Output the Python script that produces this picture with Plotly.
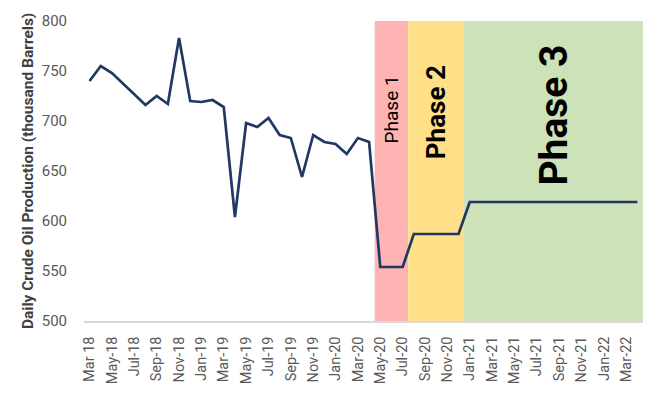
import plotly.graph_objects as go

# Months Mar-18 .. Apr-22 (first label in the original has a space)
months = ["Mar 18", "Apr-18", "May-18", "Jun-18", "Jul-18", "Aug-18", "Sep-18", "Oct-18", "Nov-18", "Dec-18",
          "Jan-19", "Feb-19", "Mar-19", "Apr-19", "May-19", "Jun-19", "Jul-19", "Aug-19", "Sep-19", "Oct-19",
          "Nov-19", "Dec-19", "Jan-20", "Feb-20", "Mar-20", "Apr-20", "May-20", "Jun-20", "Jul-20", "Aug-20",
          "Sep-20", "Oct-20", "Nov-20", "Dec-20", "Jan-21", "Feb-21", "Mar-21", "Apr-21", "May-21", "Jun-21",
          "Jul-21", "Aug-21", "Sep-21", "Oct-21", "Nov-21", "Dec-21", "Jan-22", "Feb-22", "Mar-22", "Apr-22"]

production = [740, 755, 748, 737, 726, 716, 725, 717, 783, 720,
              719, 721, 714, 604, 698, 694, 703, 686, 683, 644,
              686, 679, 677, 667, 683, 679, 554, 554, 554, 587,
              587, 587, 587, 587, 619, 619, 619, 619, 619, 619,
              619, 619, 619, 619, 619, 619, 619, 619, 619, 619]

tick_labels = months[::2]

phase_names = ["Phase 1", "Phase 2", "Phase 3"]
phase_start = ["May-20", "Aug-20", "Jan-21"]
phase_end = ["Jul-20", "Dec-20", "Apr-22"]
phase_colors = ["#FFB4B4", "#FFE088", "#CDE2B8"]
phase_font_sizes = [19, 26, 39]
phase_bold = [False, True, True]
phase_label_y = [712, 709, 706]

FONT = "Roboto, Open Sans, sans-serif"

fig = go.Figure()

fig.add_trace(go.Scatter(
    x=months, y=production, mode="lines",
    line=dict(color="#203864", width=2.7),
    showlegend=False, hoverinfo="skip",
))

for name, s, e, c, fs, b, ly in zip(phase_names, phase_start, phase_end, phase_colors,
                                    phase_font_sizes, phase_bold, phase_label_y):
    i0 = months.index(s) - 0.5
    i1 = months.index(e) + 0.5
    fig.add_shape(type="rect", xref="x", yref="y", x0=i0, x1=i1, y0=500, y1=800,
                  fillcolor=c, line=dict(width=0), layer="below")
    fig.add_annotation(x=(i0 + i1) / 2, y=ly, xref="x", yref="y",
                       text=f"<b>{name}</b>" if b else name, showarrow=False,
                       textangle=-90, font=dict(size=fs, color="#000000", family=FONT),
                       xanchor="center", yanchor="middle")

fig.add_annotation(x=0, y=0.5, xref="paper", yref="paper", xshift=-56,
                   text="<b>Daily Crude Oil Production (thousand Barrels)</b>",
                   showarrow=False, textangle=-90,
                   font=dict(size=15.5, color="#404040", family=FONT),
                   xanchor="center", yanchor="middle")

fig.update_layout(
    width=658, height=396,
    margin=dict(l=84, r=15, t=15, b=74),
    paper_bgcolor="white", plot_bgcolor="white",
    font=dict(family=FONT, color="#595959"),
    xaxis=dict(type="category", categoryorder="array", categoryarray=months,
               tickmode="array", tickvals=tick_labels, ticktext=tick_labels,
               tickangle=-90, tickfont=dict(size=14.5, color="#595959"),
               showgrid=False, showline=True, linecolor="#D9D9D9", linewidth=1.5,
               ticks="", ticklabelstandoff=8, range=[-0.5, len(months) - 0.5],
               zeroline=False),
    yaxis=dict(range=[500, 800], tickvals=[500, 550, 600, 650, 700, 750, 800],
               tickfont=dict(size=15, color="#595959"), showgrid=False,
               showline=False, zeroline=False, ticks="", ticklabelstandoff=16),
)

fig.write_html("out.html", config={"displayModeBar": False},
               post_script="document.body.style.margin='0';")
